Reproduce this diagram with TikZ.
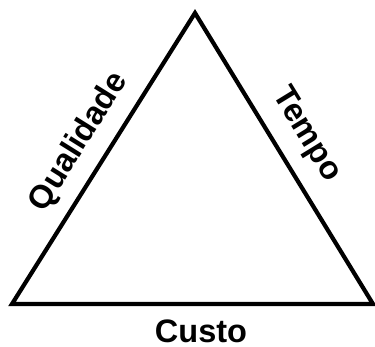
\documentclass[tikz,border=0pt]{standalone}
\usepackage{fontspec}
\setmainfont{Liberation Sans}
\begin{document}
\begin{tikzpicture}[x=1pt,y=-1pt,
  side/.style={line width=4.2pt, line join=miter},
  lbl/.style={font=\fontsize{32.5}{36}\selectfont\bfseries, inner sep=0pt}]
\useasboundingbox (0,0) rectangle (375,346);
\coordinate (top) at (195,13);
\coordinate (bl) at (12,304);
\coordinate (br) at (373,304);
\draw[side] (top) -- (bl) -- (br) -- cycle;
\node[lbl, rotate=58] (q) at (79,142) {Qualidade};
\node[lbl, rotate=-58.5] (t) at (306,135) {Tempo};
\node[lbl, anchor=base] (c) at (201,342.5) {Custo};
\end{tikzpicture}
\end{document}
